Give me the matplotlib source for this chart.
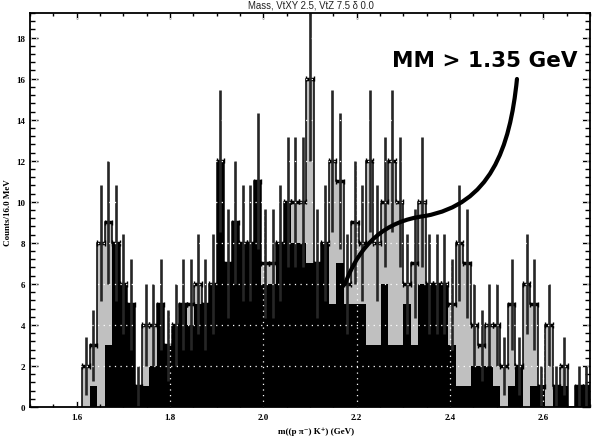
import numpy as np
import matplotlib
matplotlib.use("Agg")
import matplotlib.pyplot as plt
from matplotlib.path import Path
from matplotlib.patches import PathPatch
from matplotlib.ticker import MultipleLocator

# ---- data (counts per 16 MeV bin, starting at 1.612 GeV) ----
bin_width = 0.016
first_edge = 1.612
total_counts = [2, 3, 8, 9, 8, 6, 5, 1, 4, 4, 5, 3, 4, 5, 5, 6, 5, 6, 12, 7,
                9, 8, 8, 11, 7, 7, 8, 10, 10, 10, 16, 7, 8, 12, 11, 6, 9, 8, 12, 8,
                10, 12, 10, 6, 7, 10, 6, 6, 6, 5, 8, 7, 4, 3, 4, 4, 2, 5, 2, 6,
                5, 1, 4, 1, 2, 0, 1, 1]
cut_counts = [0, 1, 0, 3, 8, 6, 5, 1, 1, 2, 5, 3, 4, 5, 4, 5, 5, 6, 12, 7,
              9, 8, 8, 11, 6, 6, 8, 10, 8, 8, 7, 7, 8, 5, 7, 5, 5, 5, 3, 3,
              6, 3, 3, 5, 3, 6, 6, 6, 6, 3, 1, 1, 2, 2, 2, 1, 0, 1, 2, 0,
              1, 1, 0, 1, 1, 0, 1, 1]
x_ticks = [1.6, 1.8, 2.0, 2.2, 2.4, 2.6]
x_tick_labels = ["1.6", "1.8", "2.0", "2.2", "2.4", "2.6"]
y_ticks = [0, 2, 4, 6, 8, 10, 12, 14, 16, 18]
title = "Mass, VtXY 2.5, VtZ 7.5 \u03b4 0.0"
x_title = "m((p \u03c0\u207b) K\u207a) (GeV)"
y_title = "Counts/16.0 MeV"
note = "MM > 1.35 GeV"

serif = ["Liberation Serif", "DejaVu Serif"]

fig = plt.figure(figsize=(6.01, 4.39), dpi=100)
ax = fig.add_axes([30 / 601, 31 / 439, 560 / 601, 394 / 439])

tot = np.array(total_counts, dtype=float)
cut = np.array(cut_counts, dtype=float)
edges = first_edge + bin_width * np.arange(len(tot) + 1)
centers = 0.5 * (edges[:-1] + edges[1:])
nz = tot > 0

ax.stairs(tot, edges, fill=True, color="#c0c0c0", lw=0, zorder=1)
ax.stairs(cut, edges, fill=True, color="black", lw=0, zorder=2)
ax.stairs(tot, edges, color="black", lw=1.1, zorder=3)
ax.hlines(tot[nz], edges[:-1][nz], edges[1:][nz], color="black", lw=2.5, zorder=4)
# small end marks of the horizontal bars
ax.vlines(np.r_[edges[:-1][nz], edges[1:][nz]], np.r_[tot[nz], tot[nz]] - 0.13,
          np.r_[tot[nz], tot[nz]] + 0.13, color="black", lw=1.0, zorder=4)
err = np.sqrt(tot)
ax.vlines(centers[nz], (tot - err)[nz], (tot + err)[nz], color="#262626", lw=1.9, zorder=4)

ax.set_xlim(1.5, 2.7)
ax.set_ylim(0, 19.2)

# white dotted grid on top
for yv in y_ticks[1:]:
    ax.axhline(yv, color="white", lw=0.9, ls=(0, (1, 3.5)), zorder=5)
for xv in x_ticks:
    ax.axvline(xv, color="white", lw=0.9, ls=(0, (1, 3.5)), zorder=5)

ax.set_xticks(x_ticks)
ax.set_xticklabels(x_tick_labels)
ax.set_yticks(y_ticks)
ax.xaxis.set_minor_locator(MultipleLocator(0.05))
ax.yaxis.set_minor_locator(MultipleLocator(0.4))
ax.tick_params(which="both", direction="in", top=True, right=True, width=1.0, colors="black")
ax.tick_params(axis="y", which="major", length=6, pad=3.5)
ax.tick_params(axis="y", which="minor", length=3.5)
ax.tick_params(axis="x", which="major", length=4, pad=4)
ax.tick_params(axis="x", which="minor", length=2.5)
for lab in ax.get_xticklabels() + ax.get_yticklabels():
    lab.set_family(serif)
    lab.set_fontweight("bold")
    lab.set_fontsize(6.5)
for s in ax.spines.values():
    s.set_linewidth(1.3)
    s.set_zorder(6)

fig.text(0.517, 1 - 6 / 439, title, ha="center", va="center", fontsize=6.9,
         family=["Liberation Sans", "DejaVu Sans"], color="#222222")
fig.text(316 / 601, 1 - 432 / 439, x_title, ha="center", va="center", fontsize=6.5,
         family=serif, fontweight="bold")
fig.text(8 / 601, 1 - 213 / 439, y_title, ha="center", va="center", rotation=90,
         fontsize=6.5, family=serif, fontweight="bold")

fig.text(485 / 601, 1 - 67 / 439, note, ha="center", va="baseline", fontsize=15.5,
         family=["DejaVu Sans"], fontweight="bold", color="black")

verts = [(0.8696, 0.8325), (0.857, 0.6548), (0.8214, 0.5152), (0.7054, 0.4848),
         (0.6339, 0.4721), (0.5893, 0.4137), (0.5625, 0.3122)]
codes = [Path.MOVETO] + [Path.CURVE4] * 6
curve = PathPatch(Path(verts, codes), transform=ax.transAxes, fill=False,
                  lw=3.0, edgecolor="black", capstyle="round", zorder=7, clip_on=False)
ax.add_patch(curve)

fig.savefig("out.png", dpi=100)
